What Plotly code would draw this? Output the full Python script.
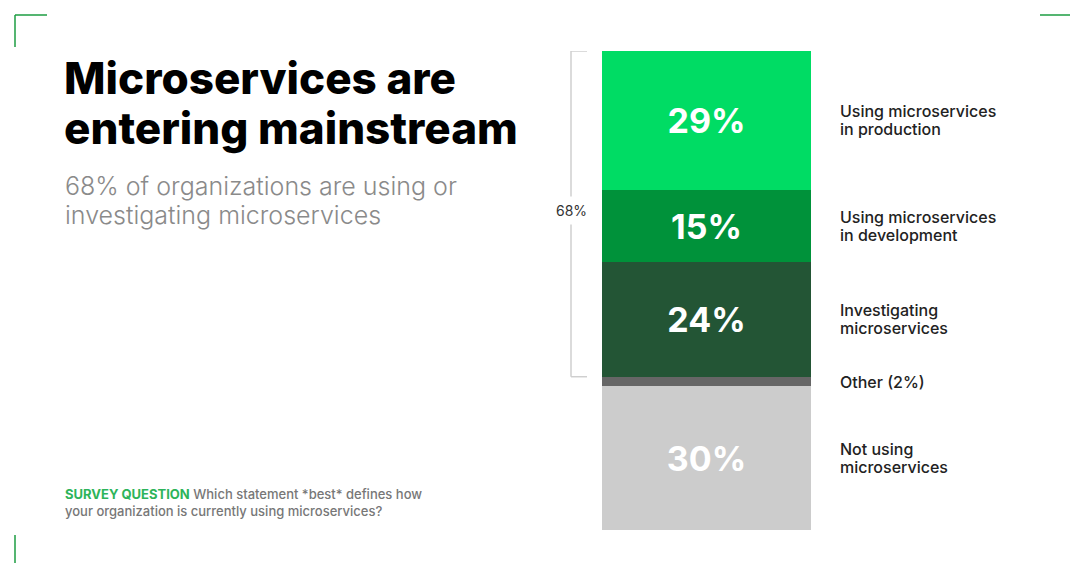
import plotly.graph_objects as go

W, H = 1070, 563

# Data (bottom to top of the stacked bar)
categories = ["Not using\nmicroservices", "Other (2%)", "Investigating\nmicroservices",
              "Using microservices\nin development", "Using microservices\nin production"]
values = [30, 2, 24, 15, 29]
value_labels = ["30%", "", "24%", "15%", "29%"]
colors = ["#cccccc", "#666666", "#235535", "#00923a", "#00dc64"]
bracket_total = 68

def px(x):
    return x / W

def py(y):
    return 1 - y / H

fig = go.Figure()
for cat, v, lab, c in zip(categories, values, value_labels, colors):
    fig.add_trace(go.Bar(
        x=[0], y=[v], name=cat, marker=dict(color=c, line=dict(width=0)),
        text=[lab], textposition="inside", insidetextanchor="middle",
        textfont=dict(family="Inter", size=34, color="white", weight=700),
        width=1, hoverinfo="skip", cliponaxis=False,
    ))

annotations = []
# right-side labels (one annotation per line for tight line spacing)
cum = 0
LS = 18
for cat, v in zip(categories, values):
    mid = cum + v / 2
    cum += v
    lines = cat.split("\n")
    n = len(lines)
    for i, ln in enumerate(lines):
        shift = ((n - 1) / 2 - i) * LS
        annotations.append(dict(
            x=px(838), xref="paper", y=mid, yref="y", xanchor="left", yanchor="middle",
            yshift=shift, text=ln, showarrow=False, align="left",
            font=dict(family="Inter", size=16, color="#222222", weight=500),
        ))

# bracket
top = sum(values)
low = top - bracket_total
shapes = []
bx, bx2 = px(571), px(587)
lc = "#cfcfcf"
shapes.append(dict(type="line", xref="paper", yref="y", x0=bx, x1=bx, y0=low, y1=top,
                   line=dict(color=lc, width=1.5)))
shapes.append(dict(type="line", xref="paper", yref="y", x0=bx, x1=bx2, y0=top, y1=top,
                   line=dict(color=lc, width=1.5)))
shapes.append(dict(type="line", xref="paper", yref="y", x0=bx, x1=bx2, y0=low, y1=low,
                   line=dict(color=lc, width=1.5)))
annotations.append(dict(
    x=bx, xref="paper", y=(low + top) / 2, yref="y", xanchor="center", yanchor="middle",
    yshift=3, text=f"{bracket_total}%", showarrow=False, bgcolor="white", borderpad=5,
    font=dict(family="Inter", size=14, color="#333333"),
))

# corner marks
gc = "#1c9c42"
for (x0, y0, x1, y1) in [(15, 15, 47, 15), (15, 15, 15, 47), (1040, 15, 1070, 15), (15, 535, 15, 563)]:
    shapes.append(dict(type="line", xref="paper", yref="paper", x0=px(x0), x1=px(x1),
                       y0=py(y0), y1=py(y1), line=dict(color=gc, width=1.5)))

# title / subtitle / survey question
for i, ln in enumerate(["Microservices are", "entering mainstream"]):
    annotations.append(dict(
        x=px(62), xref="paper", y=py(78 + i * 50), yref="paper", xanchor="left", yanchor="middle",
        text=ln, showarrow=False, align="left",
        font=dict(family="Inter", size=44, color="#000000", weight=800),
    ))
for i, ln in enumerate(["68% of organizations are using or", "investigating microservices"]):
    annotations.append(dict(
        x=px(63), xref="paper", y=py(186 + i * 29), yref="paper", xanchor="left", yanchor="middle",
        text=ln, showarrow=False, align="left",
        font=dict(family="Inter", size=25, color="#8a8a8a", weight=300),
    ))
sq = ["<span style='color:#2db45a'><b>SURVEY QUESTION</b></span> Which statement *best* defines how",
      "your organization is currently using microservices?"]
for i, ln in enumerate(sq):
    annotations.append(dict(
        x=px(63), xref="paper", y=py(494 + i * 17), yref="paper", xanchor="left", yanchor="middle",
        text=ln, showarrow=False, align="left",
        font=dict(family="Inter", size=13, color="#777777", weight=500),
    ))

fig.update_layout(
    width=W, height=H, margin=dict(l=0, r=0, t=0, b=0),
    paper_bgcolor="white", plot_bgcolor="white",
    barmode="stack", bargap=0, showlegend=False,
    xaxis=dict(domain=[px(602), px(811)], range=[-0.5, 0.5], visible=False, fixedrange=True),
    yaxis=dict(domain=[py(530), py(51)], range=[0, 100], visible=False, fixedrange=True),
    shapes=shapes, annotations=annotations,
)

fig.write_html("out.html", config={"displayModeBar": False})
